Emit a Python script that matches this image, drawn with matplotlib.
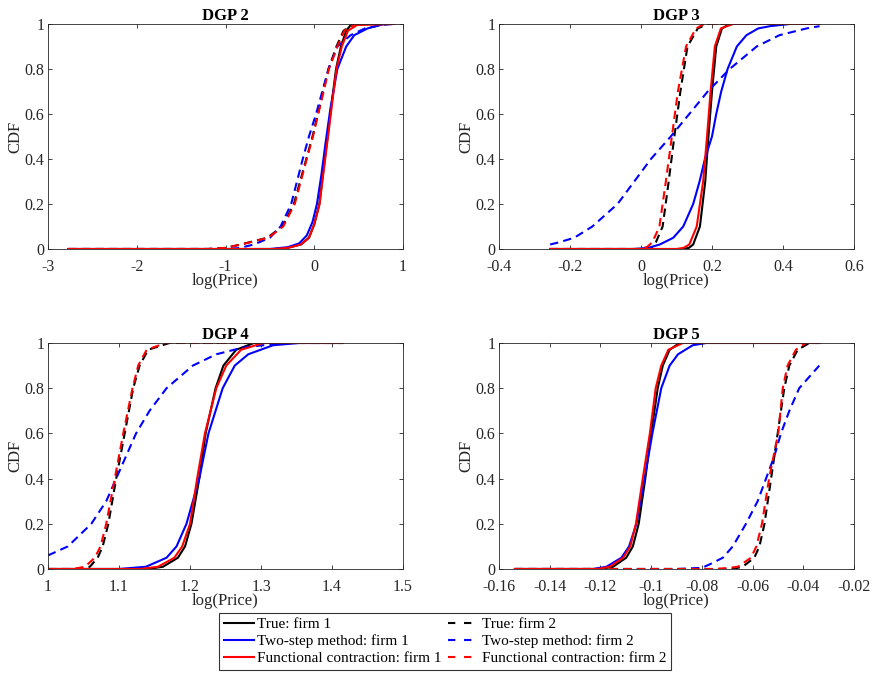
import matplotlib
matplotlib.use("Agg")
import matplotlib.pyplot as plt
from matplotlib.lines import Line2D

# ---- data (x = log price, y = CDF) ----
TITLES = ["DGP 2", "DGP 3", "DGP 4", "DGP 5"]
XTICKS = [[-3, -2, -1, 0, 1],
          [-0.4, -0.2, 0, 0.2, 0.4, 0.6],
          [1, 1.1, 1.2, 1.3, 1.4, 1.5],
          [-0.16, -0.14, -0.12, -0.1, -0.08, -0.06, -0.04, -0.02]]
XTICKLABELS = [["-3", "-2", "-1", "0", "1"],
               ["-0.4", "-0.2", "0", "0.2", "0.4", "0.6"],
               ["1", "1.1", "1.2", "1.3", "1.4", "1.5"],
               ["-0.16", "-0.14", "-0.12", "-0.1", "-0.08", "-0.06", "-0.04", "-0.02"]]
YTICKS = [0, 0.2, 0.4, 0.6, 0.8, 1]
YTICKLABELS = ["0", "0.2", "0.4", "0.6", "0.8", "1"]
LABELS = ["True: firm 1", "Two-step method: firm 1", "Functional contraction: firm 1",
          "True: firm 2", "Two-step method: firm 2", "Functional contraction: firm 2"]

# DGP 2
d2_true1_x = [-2.77, -0.45, -0.30, -0.15, -0.06, 0.00, 0.057, 0.10, 0.15, 0.20, 0.245, 0.30, 0.36, 0.42, 0.90]
d2_true1_y = [0, 0, 0.005, 0.02, 0.05, 0.11, 0.20, 0.34, 0.50, 0.66, 0.80, 0.90, 0.97, 1.0, 1.0]
d2_ts1_x = [-2.77, -0.5, -0.3, -0.17, -0.085, -0.02, 0.03, 0.08, 0.13, 0.18, 0.26, 0.36, 0.45, 0.60, 0.79, 0.90]
d2_ts1_y = [0, 0, 0.008, 0.025, 0.06, 0.12, 0.2, 0.33, 0.48, 0.62, 0.8, 0.9, 0.95, 0.98, 1.0, 1.0]
d2_fc1_x = [-2.77, -0.45, -0.30, -0.15, -0.06, 0.00, 0.06, 0.10, 0.155, 0.205, 0.25, 0.31, 0.38, 0.48, 0.90]
d2_fc1_y = [0, 0, 0.005, 0.02, 0.05, 0.11, 0.20, 0.33, 0.50, 0.66, 0.80, 0.90, 0.97, 0.995, 1.0]
d2_true2_x = [-2.77, -1.2, -1.0, -0.83, -0.53, -0.36, -0.23, -0.09, -0.02, 0.04, 0.10, 0.16, 0.25, 0.33, 0.45, 0.90]
d2_true2_y = [0, 0, 0.005, 0.02, 0.05, 0.1, 0.2, 0.4, 0.5, 0.6, 0.7, 0.8, 0.9, 0.97, 1.0, 1.0]
d2_ts2_x = [-2.77, -1.0, -0.85, -0.68, -0.50, -0.38, -0.26, -0.13, -0.06, 0.02, 0.09, 0.16, 0.26, 0.41, 0.57, 0.75, 0.90]
d2_ts2_y = [0, 0, 0.004, 0.02, 0.05, 0.1, 0.2, 0.4, 0.5, 0.6, 0.7, 0.8, 0.9, 0.95, 0.98, 0.995, 1.0]
d2_fc2_x = [-2.77, -1.2, -1.0, -0.82, -0.52, -0.35, -0.22, -0.085, -0.015, 0.045, 0.105, 0.165, 0.26, 0.34, 0.46, 0.90]
d2_fc2_y = [0, 0, 0.005, 0.02, 0.05, 0.1, 0.2, 0.4, 0.5, 0.6, 0.7, 0.8, 0.9, 0.97, 1.0, 1.0]

# DGP 3
d3_true1_x = [-0.256, 0.12, 0.135, 0.147, 0.166, 0.181, 0.19, 0.20, 0.212, 0.228, 0.25, 0.503]
d3_true1_y = [0, 0, 0.005, 0.02, 0.1, 0.3, 0.5, 0.7, 0.9, 0.98, 1.0, 1.0]
d3_ts1_x = [-0.256, -0.02, 0.02, 0.053, 0.091, 0.119, 0.147, 0.165, 0.18, 0.2, 0.212, 0.226, 0.244, 0.27,
            0.297, 0.33, 0.363, 0.42, 0.503]
d3_ts1_y = [0, 0, 0.005, 0.02, 0.05, 0.1, 0.2, 0.3, 0.4, 0.5, 0.6, 0.7, 0.8, 0.9, 0.95, 0.98, 0.99, 1.0, 1.0]
d3_fc1_x = [-0.256, 0.10, 0.12, 0.136, 0.157, 0.175, 0.186, 0.196, 0.208, 0.225, 0.26, 0.503]
d3_fc1_y = [0, 0, 0.005, 0.02, 0.1, 0.3, 0.5, 0.7, 0.9, 0.98, 1.0, 1.0]
d3_true2_x = [-0.256, 0.02, 0.032, 0.042, 0.061, 0.078, 0.094, 0.111, 0.131, 0.16, 0.188, 0.503]
d3_true2_y = [0, 0, 0.01, 0.03, 0.1, 0.3, 0.5, 0.7, 0.9, 0.98, 1.0, 1.0]
d3_ts2_x = [-0.256, -0.23, -0.188, -0.137, -0.066, -0.019, 0.028, 0.084, 0.136, 0.188, 0.25, 0.326, 0.39, 0.466, 0.503]
d3_ts2_y = [0.02, 0.03, 0.05, 0.1, 0.2, 0.3, 0.4, 0.5, 0.6, 0.7, 0.8, 0.9, 0.95, 0.98, 0.99]
d3_fc2_x = [-0.256, 0.0, 0.018, 0.032, 0.052, 0.07, 0.087, 0.104, 0.127, 0.155, 0.178, 0.503]
d3_fc2_y = [0, 0, 0.01, 0.03, 0.1, 0.3, 0.5, 0.7, 0.9, 0.98, 1.0, 1.0]

# DGP 4
d4_true1_x = [1.0, 1.14, 1.162, 1.183, 1.193, 1.202, 1.213, 1.222, 1.236, 1.247, 1.265, 1.29, 1.415]
d4_true1_y = [0, 0, 0.01, 0.05, 0.1, 0.2, 0.4, 0.6, 0.8, 0.9, 0.97, 1.0, 1.0]
d4_ts1_x = [1.0, 1.10, 1.138, 1.167, 1.181, 1.195, 1.213, 1.226, 1.246, 1.263, 1.282, 1.317, 1.354, 1.415]
d4_ts1_y = [0, 0, 0.01, 0.05, 0.1, 0.2, 0.4, 0.6, 0.8, 0.9, 0.95, 0.99, 1.0, 1.0]
d4_fc1_x = [1.0, 1.13, 1.155, 1.178, 1.189, 1.2, 1.21, 1.221, 1.237, 1.251, 1.272, 1.303, 1.415]
d4_fc1_y = [0, 0, 0.01, 0.05, 0.1, 0.2, 0.4, 0.6, 0.8, 0.9, 0.97, 1.0, 1.0]
d4_true2_x = [1.0, 1.04, 1.059, 1.07, 1.077, 1.085, 1.096, 1.102, 1.108, 1.12, 1.129, 1.141, 1.171, 1.415]
d4_true2_y = [0, 0, 0.01, 0.05, 0.1, 0.2, 0.4, 0.5, 0.6, 0.8, 0.9, 0.97, 1.0, 1.0]
d4_ts2_x = [1.0, 1.028, 1.061, 1.082, 1.096, 1.11, 1.124, 1.143, 1.167, 1.204, 1.237, 1.275, 1.331, 1.415]
d4_ts2_y = [0.06, 0.1, 0.2, 0.3, 0.4, 0.5, 0.6, 0.7, 0.8, 0.9, 0.95, 0.98, 1.0, 1.0]
d4_fc2_x = [1.0, 1.035, 1.052, 1.066, 1.074, 1.082, 1.094, 1.1, 1.106, 1.119, 1.127, 1.139, 1.166, 1.415]
d4_fc2_y = [0, 0, 0.01, 0.05, 0.1, 0.2, 0.4, 0.5, 0.6, 0.8, 0.9, 0.97, 1.0, 1.0]

# DGP 5
d5_true1_x = [-0.1537, -0.12, -0.115, -0.1098, -0.1072, -0.1049, -0.1023, -0.1, -0.0974, -0.0954, -0.0927,
              -0.0888, -0.0337]
d5_true1_y = [0, 0, 0.01, 0.05, 0.1, 0.2, 0.4, 0.6, 0.8, 0.9, 0.97, 1.0, 1.0]
d5_ts1_x = [-0.1537, -0.123, -0.1176, -0.1117, -0.1087, -0.1058, -0.1026, -0.0995, -0.096, -0.0927, -0.0894,
            -0.0836, -0.0783, -0.0337]
d5_ts1_y = [0, 0, 0.01, 0.05, 0.1, 0.2, 0.4, 0.6, 0.8, 0.9, 0.95, 0.99, 1.0, 1.0]
d5_fc1_x = [-0.1537, -0.121, -0.1163, -0.111, -0.1082, -0.106, -0.1033, -0.1019, -0.1005, -0.0982, -0.096,
            -0.0932, -0.0875, -0.0337]
d5_fc1_y = [0, 0, 0.01, 0.05, 0.1, 0.2, 0.4, 0.5, 0.6, 0.8, 0.9, 0.97, 1.0, 1.0]
d5_true2_x = [-0.1537, -0.068, -0.0639, -0.0593, -0.0573, -0.0553, -0.0527, -0.0501, -0.0475, -0.0455,
              -0.0422, -0.0376, -0.0337]
d5_true2_y = [0, 0, 0.01, 0.05, 0.1, 0.2, 0.4, 0.6, 0.8, 0.9, 0.97, 1.0, 1.0]
d5_ts2_x = [-0.1537, -0.09, -0.08, -0.077, -0.0717, -0.0678, -0.0626, -0.058, -0.0547, -0.0514, -0.0488,
            -0.0455, -0.0416, -0.0337]
d5_ts2_y = [0, 0, 0.005, 0.02, 0.05, 0.1, 0.2, 0.3, 0.4, 0.5, 0.6, 0.7, 0.8, 0.9]
d5_fc2_x = [-0.1537, -0.075, -0.0691, -0.0658, -0.0606, -0.0585, -0.0563, -0.0535, -0.0517, -0.0499, -0.0481,
            -0.0462, -0.0429, -0.039, -0.0337]
d5_fc2_y = [0, 0, 0.005, 0.01, 0.05, 0.1, 0.2, 0.4, 0.5, 0.6, 0.8, 0.9, 0.97, 1.0, 1.0]

panels = [
    [(d2_true1_x, d2_true1_y), (d2_ts1_x, d2_ts1_y), (d2_fc1_x, d2_fc1_y),
     (d2_true2_x, d2_true2_y), (d2_ts2_x, d2_ts2_y), (d2_fc2_x, d2_fc2_y)],
    [(d3_true1_x, d3_true1_y), (d3_ts1_x, d3_ts1_y), (d3_fc1_x, d3_fc1_y),
     (d3_true2_x, d3_true2_y), (d3_ts2_x, d3_ts2_y), (d3_fc2_x, d3_fc2_y)],
    [(d4_true1_x, d4_true1_y), (d4_ts1_x, d4_ts1_y), (d4_fc1_x, d4_fc1_y),
     (d4_true2_x, d4_true2_y), (d4_ts2_x, d4_ts2_y), (d4_fc2_x, d4_fc2_y)],
    [(d5_true1_x, d5_true1_y), (d5_ts1_x, d5_ts1_y), (d5_fc1_x, d5_fc1_y),
     (d5_true2_x, d5_true2_y), (d5_ts2_x, d5_ts2_y), (d5_fc2_x, d5_fc2_y)],
]

# ---- style ----
plt.rcParams['font.family'] = ['Liberation Serif', 'DejaVu Serif']
plt.rcParams['axes.unicode_minus'] = False

colors = ['black', 'blue', 'red', 'black', 'blue', 'red']
styles = ['-', '-', '-', '--', '--', '--']
draw_order = [0, 3, 1, 4, 2, 5]
DASH = (4, 2.5)
LEG_DASH = (3.5, 4.2)

fig = plt.figure(figsize=(8.76, 6.82), dpi=100)
positions = [[0.0548, 0.6349, 0.4053, 0.330],
             [0.5696, 0.6349, 0.4053, 0.330],
             [0.0548, 0.1657, 0.4053, 0.3314],
             [0.5696, 0.1657, 0.4053, 0.3314]]
gray = '#262626'

for i in range(4):
    ax = fig.add_axes(positions[i])
    for k in draw_order:
        x, y = panels[i][k]
        line, = ax.plot(x, y, color=colors[k], lw=1.5, linestyle=styles[k])
        if styles[k] == '--':
            line.set_dashes(DASH)
    ax.set_xlim(XTICKS[i][0], XTICKS[i][-1])
    ax.set_ylim(0, 1)
    ax.set_xticks(XTICKS[i])
    ax.set_xticklabels(XTICKLABELS[i])
    ax.set_yticks(YTICKS)
    ax.set_yticklabels(YTICKLABELS)
    ax.tick_params(direction='in', top=True, right=True, length=3, width=0.6,
                   labelsize=11.5, colors=gray)
    ax.tick_params(axis='x', pad=7)
    ax.tick_params(axis='y', pad=2.5)
    for sp in ax.spines.values():
        sp.set_linewidth(0.6)
        sp.set_color(gray)
    ax.set_title(TITLES[i], fontsize=12, fontweight='bold', pad=3)
    ax.set_xlabel('log(Price)', fontsize=12, color=gray, labelpad=-1)
    ax.set_ylabel('CDF', fontsize=12, color=gray, labelpad=1)

handles = []
for k in range(6):
    h = Line2D([], [], color=colors[k], lw=1.5, linestyle=styles[k])
    if styles[k] == '--':
        h.set_dashes(LEG_DASH)
    handles.append(h)

leg = fig.legend(handles, LABELS, ncol=2, loc='upper center', bbox_to_anchor=(0.508, 0.101),
                 fontsize=11, frameon=True, fancybox=False, edgecolor='black',
                 handlelength=2.0, handletextpad=0.2, columnspacing=0.4,
                 borderpad=0.3, labelspacing=0.2, borderaxespad=0)
leg.get_frame().set_linewidth(0.8)

fig.savefig('out.png', dpi=100)
